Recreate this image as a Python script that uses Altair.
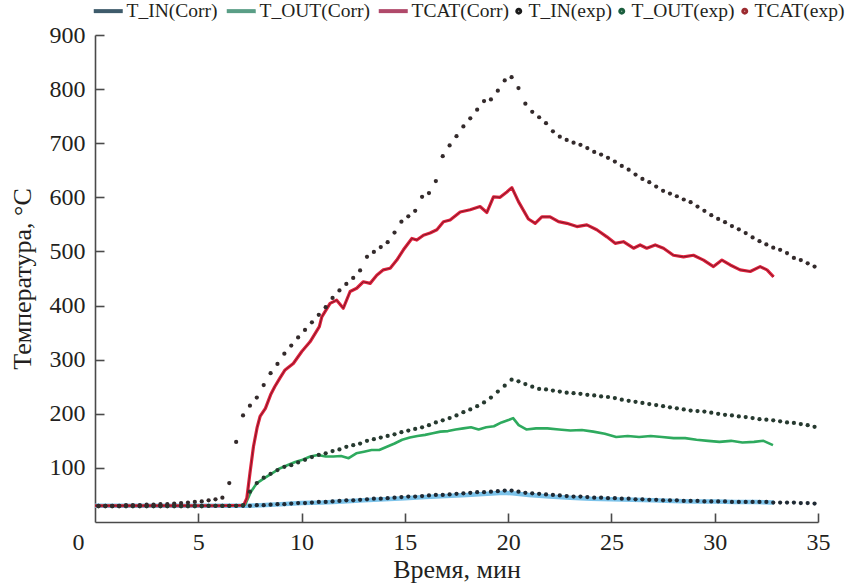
import altair as alt
import pandas as pd

# ---------------- data ----------------
# experimental points are sampled every 20 s (1/3 min), first sample at 10 s
EXP_START = 1 / 6
EXP_STEP = 1 / 3

t_in_exp = [30] * 23 + [
    31, 31, 32, 33, 33, 34, 35, 35, 36, 37, 37, 38, 39, 40, 40, 41, 42, 43, 43, 44,
    45, 46, 47, 47, 48, 49, 50, 50, 51, 52, 53, 54, 55, 55, 56, 57, 58, 58, 56, 54,
    53, 52, 51, 50, 49, 48, 47, 47, 46, 45, 45, 44, 44, 43, 43, 42, 42, 41, 41, 40,
    40, 40, 39, 39, 39, 38, 38, 38, 38, 37, 37, 37, 37, 37, 37, 36, 36, 36, 36, 35,
    35, 34]

t_out_exp = [29] * 16 + [30] * 5 + [
    31, 56, 72, 82, 89, 96, 102, 105, 110, 115, 120, 124, 127, 131, 134, 139, 142, 145,
    150, 153, 156, 159, 162, 166, 169, 172, 175, 179, 184, 188, 192, 197, 203, 208, 214,
    221, 230, 241, 252, 263, 260, 255, 250, 246, 245, 243, 241, 239, 238, 237, 235, 234,
    232, 231, 229, 226, 224, 222, 220, 218, 216, 214, 212, 210, 208, 206, 205, 204, 202,
    200, 198, 197, 195, 194, 192, 190, 189, 188, 186, 184, 183, 181, 179, 176]

tcat_exp = [
    30, 30, 30, 30, 31, 31, 31, 32, 32, 33, 33, 34, 35, 36, 37, 38, 40, 42, 45, 72,
    148, 197, 215, 230, 253, 275, 292, 311, 326, 341, 355, 369, 383, 397, 414, 428, 440,
    451, 465, 490, 499, 508, 517, 535, 555, 565, 575, 601, 608, 630, 676, 696, 713, 731,
    746, 762, 778, 781, 797, 816, 822, 802, 773, 758, 748, 737, 722, 712, 706, 701, 697,
    691, 684, 679, 673, 666, 658, 651, 642, 634, 628, 620, 612, 607, 602, 596, 591, 583,
    575, 567, 560, 554, 547, 541, 534, 526, 519, 513, 507, 503, 497, 488, 484, 478, 472]

t_in_corr_time = [0, 3, 6, 7.3, 8, 9, 10, 11, 12, 13, 14, 15, 16, 17, 18, 19, 19.8,
                  20.2, 21, 22, 23, 24, 25, 26, 27, 28, 29, 30, 31, 32, 32.85]
t_in_corr = [30, 30, 30, 30, 31, 33, 35, 36, 38, 40, 42, 44, 46, 48, 50, 52, 54,
             53, 50, 47, 45, 43, 42, 41, 40, 39, 38, 38, 37, 37, 36]

t_out_corr_time = [0, 3, 6, 7.0, 7.28, 7.55, 7.84, 8.2, 8.57, 8.94, 9.31, 9.69, 10.05,
                   10.42, 10.79, 11.17, 11.54, 11.91, 12.28, 12.65, 13.02, 13.39, 13.76,
                   14.13, 14.5, 14.87, 15.24, 15.61, 15.98, 16.35, 16.72, 17.09, 17.46,
                   17.83, 18.2, 18.57, 18.94, 19.31, 19.68, 20.05, 20.24, 20.51, 20.88,
                   21.35, 21.9, 22.46, 23.01, 23.57, 24.12, 24.68, 25.23, 25.79, 26.34,
                   26.9, 27.45, 28.01, 28.57, 29.12, 29.68, 30.23, 30.79, 31.34, 31.9,
                   32.36, 32.82]
t_out_corr = [30, 30, 30, 30, 33, 56, 72, 81, 90, 99, 105, 111, 115,
              121, 124, 121, 121, 122, 118, 127, 130, 133, 133,
              139, 145, 152, 156, 159, 161, 164, 167, 168, 171,
              173, 175, 171, 175, 177, 184, 189, 192, 179, 171,
              173, 173, 171, 169, 170, 167, 163, 157, 159, 157,
              159, 157, 155, 155, 152, 150, 148, 150, 147, 148,
              150, 142]

tcat_corr_time = [0, 3, 6, 7.2, 7.35, 7.5, 7.67, 7.85, 7.99, 8.25, 8.5, 8.7, 8.95, 9.2,
                  9.6, 10.01, 10.41, 10.86, 10.98, 11.38, 11.7, 12.02, 12.35, 12.67,
                  12.99, 13.32, 13.64, 13.96, 14.29, 14.61, 14.93, 15.34, 15.58, 15.9,
                  16.22, 16.55, 16.87, 17.19, 17.68, 18.16, 18.64, 18.97, 19.29, 19.61,
                  19.94, 20.18, 20.5, 20.98, 21.31, 21.63, 22.03, 22.44, 22.84, 23.33,
                  23.81, 24.29, 24.78, 25.18, 25.58, 26.07, 26.39, 26.71, 27.12, 27.52,
                  28.0, 28.49, 28.97, 29.46, 29.94, 30.35, 30.75, 31.23, 31.72, 32.2,
                  32.53, 32.85]
tcat_corr = [30, 30, 30, 31, 44, 90, 139, 175, 195, 210, 235, 250, 266, 281,
             293, 315, 333, 361, 379, 404, 410, 395, 426, 432,
             444, 441, 456, 466, 469, 484, 503, 524, 521, 530,
             534, 540, 555, 558, 573, 577, 583, 572, 601, 600,
             610, 618, 592, 560, 552, 564, 564, 555, 552, 546,
             549, 540, 527, 515, 518, 506, 512, 506, 512, 506,
             493, 490, 493, 484, 472, 484, 475, 466, 463, 472,
             466, 453]

series_names = ["T_IN(Corr)", "T_OUT(Corr)", "TCAT(Corr)",
                "T_IN(exp)", "T_OUT(exp)", "TCAT(exp)"]
x_ticks = [0, 5, 10, 15, 20, 25, 30, 35]
y_ticks = [100, 200, 300, 400, 500, 600, 700, 800, 900]

# ---------------- styles ----------------
FONT = "Liberation Serif"
TXT = "#231f20"
AX = "#4a4a4a"
legend_colors = ["#3e5b6b", "#5a9e86", "#b0496a", "#1a1a1a", "#1b5e3e", "#9c2b30"]
# legend symbols (symbolSize 1 -> unit = 0.5 px): a ~29 px stroke, a small dot
LINE_SYM = "M-46,0H12"
DOT_SYM = "M-3,0A3,3 0 1,0 3,0A3,3 0 1,0 -3,0Z"
legend_shapes = [LINE_SYM, LINE_SYM, LINE_SYM, DOT_SYM, DOT_SYM, DOT_SYM]


def exp_frame(name, vals):
    return pd.DataFrame({"t": [EXP_START + i * EXP_STEP for i in range(len(vals))],
                         "v": vals, "series": name})


def corr_frame(name, times, vals):
    return pd.DataFrame({"t": times, "v": vals, "series": name})


df = pd.concat([
    corr_frame("T_IN(Corr)", t_in_corr_time, t_in_corr),
    corr_frame("T_OUT(Corr)", t_out_corr_time, t_out_corr),
    corr_frame("TCAT(Corr)", tcat_corr_time, tcat_corr),
    exp_frame("T_IN(exp)", t_in_exp),
    exp_frame("T_OUT(exp)", t_out_exp),
    exp_frame("TCAT(exp)", tcat_exp),
], ignore_index=True)

xscale = alt.Scale(domain=[0, 35], nice=False, zero=False)
yscale = alt.Scale(domain=[0, 900], nice=False, zero=False)

base = alt.Chart(df)

main_x_axis = alt.Axis(values=x_ticks, ticks=False, grid=False, domainColor=AX,
                       domainWidth=1.6, labelFont=FONT, labelFontSize=24,
                       labelColor=TXT, labelPadding=8, labelFlush=False,
                       labelOffset={"condition": {"test": "datum.value === 0", "value": -17},
                                    "value": 0},
                       title="Время, мин", titleFont=FONT, titleFontSize=26,
                       titleFontWeight="normal", titleColor=TXT, titlePadding=2)
main_y_axis = alt.Axis(values=y_ticks, ticks=False, grid=False, domainColor=AX,
                       domainWidth=1.6, labelFont=FONT, labelFontSize=24,
                       labelColor=TXT, labelPadding=10, labelFlush=False,
                       title="Температура, °C", titleFont=FONT, titleFontSize=26,
                       titleFontWeight="normal", titleColor=TXT, titlePadding=14)


def line_layer(name, color, width, axes=False):
    enc_x = alt.X("t:Q", scale=xscale, axis=main_x_axis if axes else None)
    enc_y = alt.Y("v:Q", scale=yscale, axis=main_y_axis if axes else None)
    return base.transform_filter(alt.datum.series == name).mark_line(
        color=color, strokeWidth=width, strokeJoin="round", interpolate="linear"
    ).encode(x=enc_x, y=enc_y)


def point_layer(name, color):
    return base.transform_filter(alt.datum.series == name).mark_circle(
        color=color, size=18, opacity=1
    ).encode(x=alt.X("t:Q", scale=xscale, axis=None),
             y=alt.Y("v:Q", scale=yscale, axis=None))


# inward ticks: an extra axis pair shifted into the plot
tick_layer = base.transform_filter(alt.datum.series == "T_IN(exp)").mark_circle(
    opacity=0).encode(
    x=alt.X("t:Q", scale=xscale, title=None,
            axis=alt.Axis(orient="bottom", values=x_ticks[1:], domain=False, labels=False,
                          ticks=True, tickSize=9, tickColor=AX, tickWidth=1.6,
                          offset=-9, grid=False, title=None)),
    y=alt.Y("v:Q", scale=yscale, title=None,
            axis=alt.Axis(orient="left", values=y_ticks, domain=False, labels=False,
                          ticks=True, tickSize=9, tickColor=AX, tickWidth=1.6,
                          offset=-9, grid=False, title=None)),
)

# legend-only layer (rows without coordinates are not drawn)
legend_df = pd.DataFrame({"series": series_names, "t": [None] * 6, "v": [None] * 6})
leg = alt.Legend(title=None, orient="none", legendX=12, legendY=-34,
                 direction="horizontal", columns=6, labelFont=FONT, labelFontSize=19.5,
                 labelColor=TXT, labelOffset=0, columnPadding=0, symbolStrokeWidth=4,
                 symbolSize=1, symbolOpacity=1, labelLimit=300)
legend_layer = alt.Chart(legend_df).mark_point(filled=False, strokeWidth=4).encode(
    x=alt.X("t:Q", scale=xscale, axis=None),
    y=alt.Y("v:Q", scale=yscale, axis=None),
    color=alt.Color("series:N", sort=series_names,
                    scale=alt.Scale(domain=series_names, range=legend_colors), legend=leg),
    shape=alt.Shape("series:N", sort=series_names,
                    scale=alt.Scale(domain=series_names, range=legend_shapes), legend=leg),
)

chart = alt.layer(
    line_layer("T_IN(Corr)", "#7cc3ea", 4.5, axes=True),
    line_layer("T_OUT(Corr)", "#2eaa5e", 2.6),
    line_layer("TCAT(Corr)", "#e2223e", 3.2),
    line_layer("TCAT(Corr)", "#7d1a28", 1.0),
    point_layer("T_IN(exp)", "#1f2933"),
    point_layer("T_OUT(exp)", "#26392f"),
    point_layer("TCAT(exp)", "#332a2b"),
    tick_layer,
    legend_layer,
).resolve_axis(x="independent", y="independent").properties(
    width=723, height=487,
    padding={"left": 95, "top": 35, "right": 33, "bottom": 64},
    autosize=alt.AutoSizeParams(type="none"),
    background="white",
).configure_view(stroke=None)

chart.save("out.html", embed_options={"renderer": "svg", "actions": False})
